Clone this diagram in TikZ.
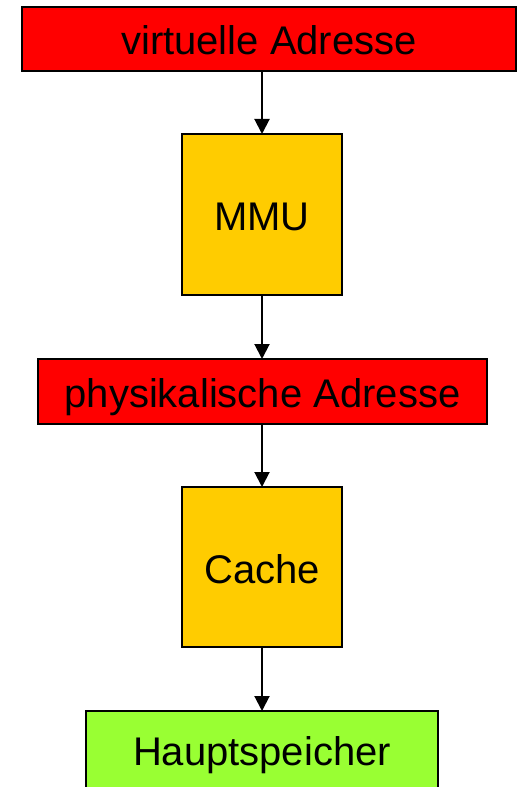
\documentclass[tikz,border=0pt]{standalone}
\usepackage{fontspec}
\setmainfont{Liberation Sans}
\usetikzlibrary{arrows.meta}
\definecolor{cred}{HTML}{FF0000}
\definecolor{cgold}{HTML}{FFCC00}
\definecolor{cgreen}{HTML}{99FF33}
\tikzset{
  every picture/.style={font=\fontsize{40bp}{48bp}\selectfont, line width=2bp},
  box/.style={draw=black, fill=#1, inner sep=0pt, outer sep=0pt, align=center,
    text height=32bp, text depth=0pt},
  box/.default=cgold,
  arrow/.style={-{Triangle[length=15bp, width=15bp]}, draw=black, line width=2bp},
}
\begin{document}
\begin{tikzpicture}[x=1bp, y=-1bp]
  \useasboundingbox (0,0) rectangle (517,787);
  % address path, top to bottom
  \node[box=cred, minimum width=494bp, minimum height=64bp] (virt) at (269,39) {virtuelle Adresse};
  \node[box, minimum width=160bp, minimum height=161bp] (mmu) at (262,214.5) {MMU};
  \node[box=cred, minimum width=449bp, minimum height=65bp] (phys) at (262.5,391.5) {physikalische Adresse};
  \node[box, minimum width=160bp, minimum height=160bp] (cache) at (262,567) {Cache};
  \node[box=cgreen, minimum width=352bp, minimum height=77bp] (haupt) at (262,749.5) {Hauptspeicher};
  % connectors
  \draw[arrow] (virt.south -| mmu.north) -- (mmu.north);
  \draw[arrow] (mmu.south) -- (phys.north -| mmu.south);
  \draw[arrow] (phys.south -| cache.north) -- (cache.north);
  \draw[arrow] (cache.south) -- (haupt.north);
\end{tikzpicture}
\end{document}
